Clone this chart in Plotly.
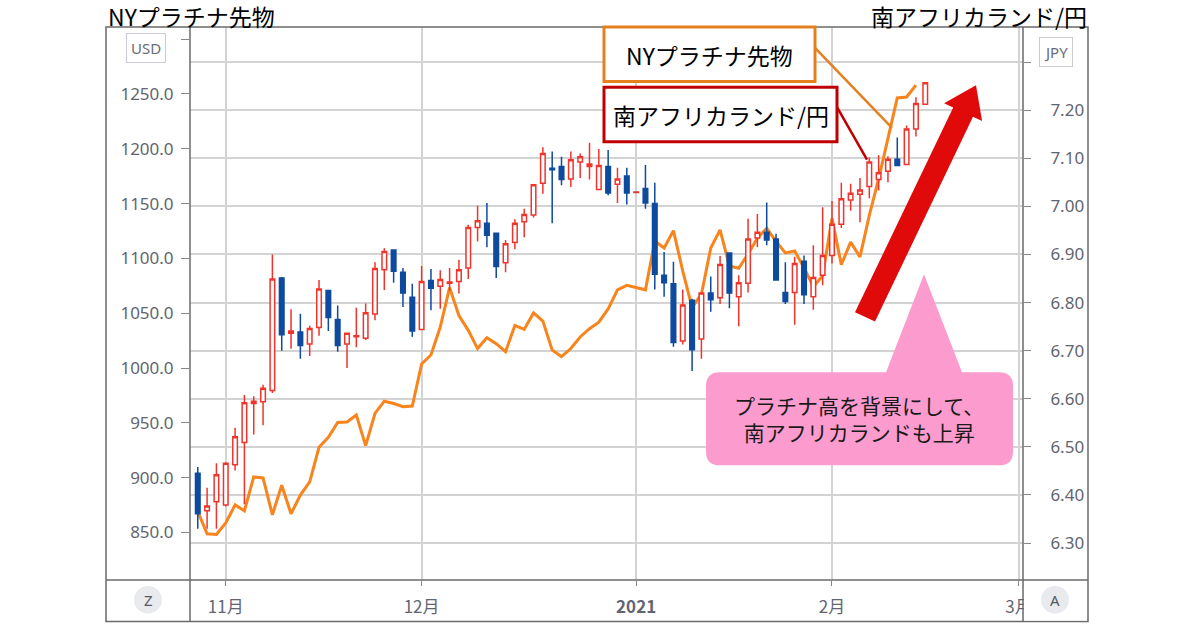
import pandas as pd
import plotly.graph_objects as go

# ---------------- data ----------------
trade_days = pd.bdate_range("2020-10-28", "2021-02-15") + pd.Timedelta(hours=12)

zar_open = [6.445, 6.367, 6.386, 6.379, 6.463, 6.509, 6.590, 6.594, 6.617, 6.851,
            6.736, 6.739, 6.714, 6.748, 6.825, 6.765, 6.714, 6.729, 6.726, 6.776,
            6.868, 6.909, 6.863, 6.811, 6.744, 6.846, 6.834, 6.840, 6.844, 6.872,
            6.956, 6.965, 6.944, 6.883, 6.925, 6.968, 6.982, 7.048, 7.079, 7.083,
            7.057, 7.092, 7.083, 7.035, 7.083, 7.046, 7.063, 7.029, 7.037, 7.006,
            6.857, 6.839, 6.720, 6.805, 6.724, 6.820, 6.810, 6.903, 6.812, 6.840,
            6.934, 6.946, 6.932, 6.821, 6.821, 6.886, 6.812, 6.857, 6.898, 6.963,
            7.013, 7.025, 7.041, 7.056, 7.073, 7.098, 7.087, 7.161, 7.212]
zar_high = [6.458, 6.415, 6.466, 6.468, 6.540, 6.608, 6.605, 6.629, 6.900, 6.853,
            6.786, 6.777, 6.752, 6.847, 6.826, 6.794, 6.738, 6.789, 6.798, 6.884,
            6.913, 6.910, 6.872, 6.839, 6.876, 6.870, 6.867, 6.872, 6.889, 6.962,
            7.001, 7.007, 6.945, 6.930, 6.973, 6.995, 7.045, 7.123, 7.114, 7.103,
            7.114, 7.110, 7.132, 7.119, 7.117, 7.080, 7.080, 7.031, 7.086, 7.049,
            6.905, 6.885, 6.827, 6.808, 6.820, 6.854, 6.897, 6.904, 6.857, 6.974,
            6.984, 7.008, 6.943, 6.884, 6.895, 6.898, 6.919, 6.998, 7.011, 7.049,
            7.047, 7.059, 7.102, 7.106, 7.104, 7.143, 7.168, 7.227, 7.257]
zar_low = [6.330, 6.330, 6.330, 6.376, 6.451, 6.381, 6.526, 6.545, 6.612, 6.700,
           6.704, 6.683, 6.689, 6.731, 6.741, 6.698, 6.664, 6.707, 6.722, 6.763,
           6.826, 6.841, 6.791, 6.729, 6.743, 6.784, 6.787, 6.824, 6.819, 6.849,
           6.927, 6.915, 6.851, 6.863, 6.911, 6.936, 6.977, 7.026, 6.965, 7.044,
           7.040, 7.059, 7.056, 7.035, 7.023, 7.007, 7.004, 7.029, 6.995, 6.827,
           6.812, 6.708, 6.713, 6.658, 6.683, 6.781, 6.797, 6.788, 6.751, 6.821,
           6.915, 6.919, 6.847, 6.797, 6.754, 6.797, 6.785, 6.836, 6.881, 6.955,
           6.991, 6.967, 7.017, 7.033, 7.050, 7.085, 7.086, 7.145, 7.212]
zar_close = [6.361, 6.377, 6.442, 6.466, 6.521, 6.592, 6.595, 6.622, 6.849, 6.733,
             6.741, 6.711, 6.746, 6.828, 6.769, 6.711, 6.736, 6.731, 6.779, 6.871,
             6.906, 6.865, 6.820, 6.741, 6.844, 6.830, 6.848, 6.843, 6.868, 6.956,
             6.970, 6.940, 6.875, 6.922, 6.965, 6.983, 7.045, 7.110, 7.076, 7.056,
             7.097, 7.103, 7.088, 7.085, 7.028, 7.057, 7.028, 7.030, 7.007, 6.859,
             6.841, 6.717, 6.795, 6.702, 6.820, 6.806, 6.879, 6.820, 6.841, 6.932,
             6.946, 6.930, 6.847, 6.802, 6.881, 6.816, 6.852, 6.898, 6.963, 7.016,
             7.027, 7.034, 7.092, 7.070, 7.098, 7.085, 7.161, 7.214, 7.257]

platinum = [869.2, 848.8, 848.2, 858.7, 875.2, 869.8, 900.7, 899.8, 866.2, 893.2,
            867.1, 884.2, 896.2, 927.7, 936.8, 950.3, 950.9, 957.2, 929.3, 958.6,
            969.8, 967.7, 964.7, 965.3, 1003.8, 1011.9, 1037.4, 1073.4, 1047.9, 1034.4,
            1017.8, 1027.7, 1022.3, 1014.9, 1038.9, 1035.3, 1050.3, 1042.8, 1016.4, 1010.4,
            1017.8, 1028.4, 1035.9, 1041.9, 1053.9, 1071.4, 1075.5, 1073.4, 1071.4, 1115.8,
            1109.5, 1125.4, 1088.5, 1055.4, 1067.4, 1109.5, 1126.0, 1093.2, 1091.0, 1104.1,
            1118.5, 1127.5, 1115.5, 1105.0, 1106.8, 1091.4, 1074.3, 1084.2, 1136.5, 1094.4,
            1114.9, 1101.4, 1139.2, 1172.5, 1210.4, 1246.4, 1247.3, 1258.1]
platinum_days = trade_days[:len(platinum)]

month_ticks = ["2020-11-02 12:00", "2020-12-01 12:00", "2021-01-01 12:00",
               "2021-02-01 12:00", "2021-03-01 12:00"]
month_labels = ["11月", "12月", "<b>2021</b>", "2月", "3月"]
usd_ticks = [850, 900, 950, 1000, 1050, 1100, 1150, 1200, 1250, 1300]
# the top label sits under the currency badge, as in the reference
usd_labels = [f"{v:.1f}" if v < 1300 else "" for v in usd_ticks]
jpy_ticks = [6.3, 6.4, 6.5, 6.6, 6.7, 6.8, 6.9, 7.0, 7.1, 7.2, 7.3]
jpy_labels = [f"{v:.2f}" if v < 7.25 else "" for v in jpy_ticks]

title_left = "NYプラチナ先物"
title_right = "南アフリカランド/円"
note_text = "プラチナ高を背景にして、<br>南アフリカランドも上昇"

# ---------------- layout geometry (pixels) ----------------
W, H = 1200, 630
PL, PR, PT, PB = 190, 1023, 27, 586


def px(x):
    return (x - PL) / (PR - PL)


def py(y):
    return (PB - y) / (PB - PT)


def pt(x, y):
    return f"{px(x):.5f},{py(y):.5f}"


RED = "#F0342C"
BLUE = "#0E4A9E"
GRID = "#d3d3d3"
TICKC = "#62656f"
FRAME = "#6a6a6a"
JP = "Noto Sans CJK JP"

fig = go.Figure()
fig.add_trace(go.Scatter(
    x=platinum_days, y=platinum, mode="lines", yaxis="y",
    line=dict(color="#F7841C", width=3), name=title_left, hoverinfo="skip"))
fig.add_trace(go.Candlestick(
    x=trade_days, open=zar_open, high=zar_high, low=zar_low, close=zar_close,
    yaxis="y2", name=title_right, whiskerwidth=0,
    increasing=dict(line=dict(color=RED, width=1.5), fillcolor="white"),
    decreasing=dict(line=dict(color=BLUE, width=1.5), fillcolor=BLUE)))

shapes = []
# frame
shapes.append(dict(type="rect", xref="paper", yref="paper", x0=px(106), x1=px(1088),
                   y0=py(628), y1=py(27), line=dict(color=FRAME, width=1.5), layer="above"))
shapes.append(dict(type="rect", xref="paper", yref="paper", x0=px(1024), x1=px(1087),
                   y0=py(627), y1=py(587), line=dict(width=0), fillcolor="white", layer="above"))
for xv in (190, 1023):
    shapes.append(dict(type="line", xref="paper", yref="paper", x0=px(xv), x1=px(xv),
                       y0=py(628), y1=py(27), line=dict(color=FRAME, width=1.5), layer="above"))
shapes.append(dict(type="line", xref="paper", yref="paper", x0=px(106), x1=px(1088),
                   y0=py(586), y1=py(586), line=dict(color=FRAME, width=1.5), layer="above"))
# bottom corner circles
for cx in (148, 1055):
    shapes.append(dict(type="circle", xref="paper", yref="paper", x0=px(cx - 14), x1=px(cx + 14),
                       y0=py(606 + 14), y1=py(606 - 14), line=dict(width=0),
                       fillcolor="#e9eaee", layer="above"))
# callout boxes
shapes.append(dict(type="line", xref="paper", yref="paper", x0=px(815), y0=py(48),
                   x1=px(892), y1=py(129), line=dict(color="#E5801E", width=2.5), layer="above"))
shapes.append(dict(type="rect", xref="paper", yref="paper", x0=px(604), x1=px(815),
                   y0=py(82), y1=py(27), line=dict(color="#E5801E", width=3),
                   fillcolor="white", layer="above"))
shapes.append(dict(type="line", xref="paper", yref="paper", x0=px(837), y0=py(108),
                   x1=px(867), y1=py(161), line=dict(color="#C00000", width=2.5), layer="above"))
shapes.append(dict(type="rect", xref="paper", yref="paper", x0=px(604), x1=px(837),
                   y0=py(143), y1=py(88), line=dict(color="#C00000", width=3),
                   fillcolor="white", layer="above"))
# red arrow
arrow = ("M " + pt(855.0, 315.3) + " L " + pt(875.0, 324.7) + " L " + pt(973.0, 117.8)
         + " L " + pt(982.1, 122.1) + " L " + pt(976.0, 86.0) + " L " + pt(944.1, 104.1)
         + " L " + pt(953.2, 108.4) + " Z")
shapes.append(dict(type="path", xref="paper", yref="paper", path=arrow,
                   fillcolor="#E00A0A", line=dict(width=0), layer="above"))
# pink speech bubble
r = 14
L_, R_, T_, B_ = 706, 1013, 376, 470
bubble = ("M " + pt(L_ + r, T_) + " L " + pt(886, T_) + " L " + pt(924, 277) + " L " + pt(962, T_)
          + " L " + pt(R_ - r, T_) + " Q " + pt(R_, T_) + " " + pt(R_, T_ + r)
          + " L " + pt(R_, B_ - r) + " Q " + pt(R_, B_) + " " + pt(R_ - r, B_)
          + " L " + pt(L_ + r, B_) + " Q " + pt(L_, B_) + " " + pt(L_, B_ - r)
          + " L " + pt(L_, T_ + r) + " Q " + pt(L_, T_) + " " + pt(L_ + r, T_) + " Z")
shapes.append(dict(type="path", xref="paper", yref="paper", path=bubble,
                   fillcolor="#FC9BCD", line=dict(width=0), layer="above"))

annotations = [
    dict(text=title_left, x=px(106), y=py(16), xanchor="left", yanchor="middle",
         font=dict(family=JP, size=23, color="black")),
    dict(text=title_right, x=px(1089), y=py(16), xanchor="right", yanchor="middle",
         font=dict(family=JP, size=23, color="black")),
    dict(text=title_left, x=px(709.5), y=py(55), xanchor="center", yanchor="middle",
         font=dict(family=JP, size=23, color="black")),
    dict(text=title_right, x=px(720.5), y=py(115.5), xanchor="center", yanchor="middle",
         font=dict(family=JP, size=23, color="black")),
    dict(text=note_text, x=px(859), y=py(423), xanchor="center", yanchor="middle",
         align="center", font=dict(family=JP, size=21, color="#1a1a1a")),
    dict(text="USD", x=px(146), y=py(48), xanchor="center", yanchor="middle",
         bgcolor="white", bordercolor="#c9ccd4", borderwidth=1, borderpad=4,
         font=dict(family="Noto Sans", size=15, color="#6a6d78")),
    dict(text="JPY", x=px(1056), y=py(52), xanchor="center", yanchor="middle",
         bgcolor="white", bordercolor="#c9ccd4", borderwidth=1, borderpad=4,
         font=dict(family="Noto Sans", size=15, color="#6a6d78")),
    dict(text="Z", x=px(148), y=py(606), xanchor="center", yanchor="middle",
         font=dict(family="Noto Sans", size=15, color="#55585f")),
    dict(text="A", x=px(1055), y=py(606), xanchor="center", yanchor="middle",
         font=dict(family="Noto Sans", size=15, color="#55585f")),
]
for a in annotations:
    a.update(xref="paper", yref="paper", showarrow=False)

fig.update_layout(
    width=W, height=H,
    margin=dict(l=PL, r=W - PR, t=PT, b=H - PB, pad=0),
    paper_bgcolor="white", plot_bgcolor="white",
    showlegend=False, hovermode=False,
    shapes=shapes, annotations=annotations,
    xaxis=dict(
        type="date", range=["2020-10-27 16:00", "2021-03-01 23:30"],
        rangebreaks=[dict(bounds=["sat", "mon"])],
        tickvals=month_ticks, ticktext=month_labels,
        showgrid=True, gridcolor=GRID, gridwidth=1.5, zeroline=False, showline=False,
        ticks="outside", ticklen=5, tickcolor="#888888", ticklabelstandoff=7,
        tickfont=dict(family=JP, size=17, color=TICKC),
        rangeslider=dict(visible=False), fixedrange=True),
    yaxis=dict(
        range=[806.7, 1311.1], tickvals=usd_ticks, ticktext=usd_labels,
        side="left", showgrid=False, zeroline=False, showline=False,
        ticks="outside", ticklen=8, tickcolor="#888888", ticklabelstandoff=4,
        tickfont=dict(family="Noto Sans", size=17, color=TICKC), fixedrange=True),
    yaxis2=dict(
        range=[6.2233, 7.3728], tickvals=jpy_ticks, ticktext=jpy_labels,
        overlaying="y", side="right", showgrid=True, gridcolor=GRID, gridwidth=1.5,
        zeroline=False, showline=False,
        ticks="outside", ticklen=7, tickcolor="#888888", ticklabelstandoff=16,
        tickfont=dict(family="Noto Sans", size=17, color=TICKC), fixedrange=True),
)

fig.write_html("out.html", include_plotlyjs=True, config={"displayModeBar": False},
               post_script="document.body.style.margin='0';document.body.style.overflow='hidden';")
